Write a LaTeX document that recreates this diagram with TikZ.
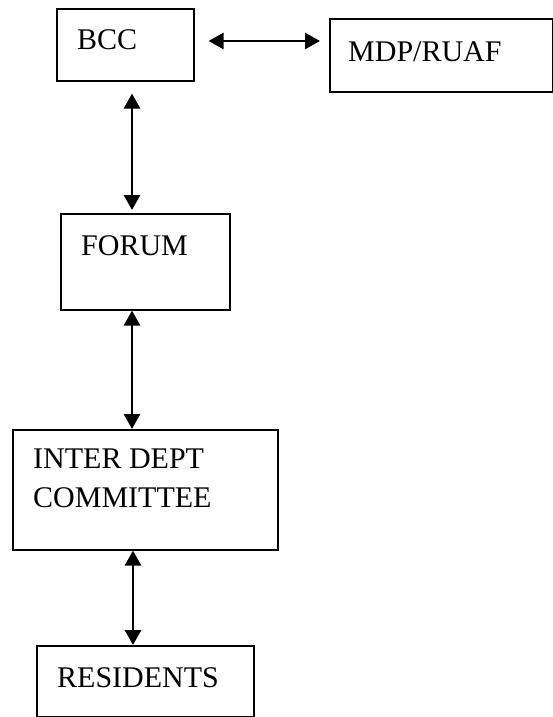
\documentclass[tikz,border=0pt]{standalone}
\usepackage{fontspec}
\setmainfont{Liberation Serif}
\usetikzlibrary{arrows.meta}
\begin{document}
\begin{tikzpicture}[x=1pt,y=-1pt,
  box/.style={draw, line width=1.6pt, inner sep=0pt, anchor=north west},
  lbl/.style={anchor=base west, inner sep=0pt, font=\fontsize{30}{36}\selectfont},
  biarrow/.style={line width=2.8pt, {Triangle[length=15pt,width=16pt]}-{Triangle[length=15pt,width=16pt]}}]
\useasboundingbox (0,0) rectangle (553,717);
% boxes
\node[box, minimum width=137pt, minimum height=72pt] (bcc) at (56,8) {};
\node[box, minimum width=223pt, minimum height=73pt] (mdp) at (329,18) {};
\node[box, minimum width=169pt, minimum height=96pt] (forum) at (60,213) {};
\node[box, minimum width=265pt, minimum height=120pt] (inter) at (12,429) {};
\node[box, minimum width=217pt, minimum height=71pt] (res) at (36,645) {};
% labels
\node[lbl] (tbcc) at (77,49) {BCC};
\node[lbl] (tmdp) at (348,61) {MDP/RUAF};
\node[lbl] (tforum) at (81,255) {FORUM};
\node[lbl] (tinter1) at (33,468) {INTER DEPT};
\node[lbl] (tinter2) at (33,507) {COMMITTEE};
\node[lbl] (tres) at (57,687) {RESIDENTS};
% connector anchors
\coordinate (ax) at (132,0);
\coordinate (bx) at (133,0);
\coordinate (hy) at (0,41);
% arrows
\draw[biarrow] ([xshift=14pt]bcc.east |- hy) -- ([xshift=-9pt]mdp.west |- hy);
\draw[biarrow] ([yshift=-12pt]bcc.south -| ax) -- ([yshift=3pt]forum.north -| ax);
\draw[biarrow] (forum.south -| ax) -- (inter.north -| ax);
\draw[biarrow] (inter.south -| bx) -- (res.north -| bx);
\end{tikzpicture}
\end{document}
